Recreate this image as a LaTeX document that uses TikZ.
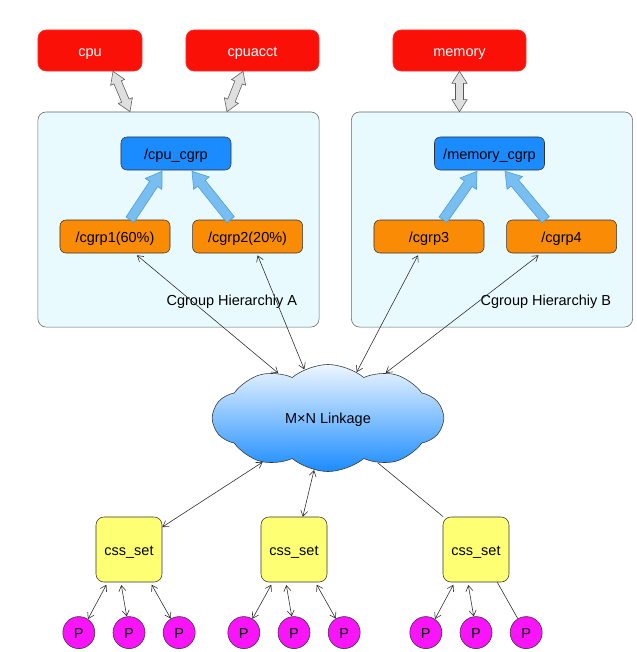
\documentclass[tikz,border=0pt]{standalone}
\usepackage{fontspec}
\setmainfont{Liberation Sans}
\usetikzlibrary{positioning, arrows.meta, shapes.geometric, shapes.symbols, calc}
\usepackage{xcolor}

\definecolor{subsysred}{HTML}{FA1006}
\definecolor{hierfill}{HTML}{E9FAFE}
\definecolor{rootblue}{HTML}{1A8CFF}
\definecolor{grporange}{HTML}{FA8C05}
\definecolor{cssyellow}{HTML}{FFFF73}
\definecolor{procmagenta}{HTML}{FA14FA}
\definecolor{cloudtop}{HTML}{EEF6FF}
\definecolor{inherblue}{HTML}{78BEF0}
\definecolor{inheredge}{HTML}{4A9ADE}

% fat double-headed arrow: style, from, to
\newcommand{\fatdouble}[3]{%
  \coordinate (fa-a) at (#2);
  \coordinate (fa-b) at (#3);
  \coordinate (fa-ha) at ($(fa-a)!0.3cm!(fa-b)$);
  \coordinate (fa-hb) at ($(fa-b)!0.3cm!(fa-a)$);
  \filldraw[#1] (fa-a) -- ($(fa-ha)!0.19cm!90:(fa-b)$) -- ($(fa-ha)!0.1cm!90:(fa-b)$)
    -- ($(fa-hb)!0.1cm!-90:(fa-a)$) -- ($(fa-hb)!0.19cm!-90:(fa-a)$) -- (fa-b)
    -- ($(fa-hb)!0.19cm!90:(fa-a)$) -- ($(fa-hb)!0.1cm!90:(fa-a)$)
    -- ($(fa-ha)!0.1cm!-90:(fa-b)$) -- ($(fa-ha)!0.19cm!-90:(fa-b)$) -- cycle;}

% fat single-headed arrow: style, from, to
\newcommand{\fatarrow}[3]{%
  \coordinate (fa-a) at (#2);
  \coordinate (fa-b) at (#3);
  \coordinate (fa-hb) at ($(fa-b)!0.38cm!(fa-a)$);
  \filldraw[#1] ($(fa-a)!0.12cm!90:(fa-b)$) -- ($(fa-hb)!0.12cm!-90:(fa-a)$)
    -- ($(fa-hb)!0.25cm!-90:(fa-a)$) -- (fa-b) -- ($(fa-hb)!0.25cm!90:(fa-a)$)
    -- ($(fa-hb)!0.12cm!90:(fa-a)$) -- ($(fa-a)!0.12cm!-90:(fa-b)$) -- cycle;}

\begin{document}
\begin{tikzpicture}[x=0.025cm, y=-0.025cm,
        every node/.style={font=\fontsize{10.3}{12}\selectfont, text height=8.5pt, text depth=0.5pt},
        subsys/.style={rectangle, rounded corners=0.2cm, fill=subsysred, draw=subsysred!85!white, text=white, minimum height=1.025cm},
        hier/.style={rectangle, rounded corners=0.2cm, fill=hierfill, draw=black!60, minimum width=7.025cm, minimum height=5.375cm},
        root/.style={rectangle, rounded corners=0.15cm, fill=rootblue, draw=black!80, minimum width=2.75cm, minimum height=0.825cm},
        grp/.style={rectangle, rounded corners=0.15cm, fill=grporange, draw=black!80, minimum width=2.75cm, minimum height=0.825cm},
        cssbox/.style={rectangle, rounded corners=0.2cm, fill=cssyellow, draw=black!80, minimum width=1.65cm, minimum height=1.625cm},
        proc/.style={circle, fill=procmagenta, draw=black!80, minimum size=0.8cm, inner sep=0pt},
        linkcloud/.style={cloud, cloud puffs=10, cloud puff arc=80, aspect=2.2, draw=black!80, top color=cloudtop, bottom color=rootblue, minimum width=5.75cm, minimum height=2.675cm},
        conn/.style={{Straight Barb[length=4pt,width=5pt]}-{Straight Barb[length=4pt,width=5pt]}, black!85, thin},
        plain/.style={black!85, thin},
        subarrow/.style={fill=gray!25, draw=gray!70!black, thin},
        inherit/.style={fill=inherblue, draw=inheredge, thin}
    ]
        \useasboundingbox (0,0) rectangle (637,652);

        % Subsystems
        \node[subsys, minimum width=2.6cm] (cpu) at (90,50.5) {cpu};
        \node[subsys, minimum width=3.325cm] (cpuacct) at (252.5,50.5) {cpuacct};
        \node[subsys, minimum width=3.325cm] (memory) at (459.5,50.5) {memory};

        % Hierarchies
        \node[hier] (hierA) at (178.5,219.5) {};
        \node[hier] (hierB) at (492,219.5) {};
        \node[anchor=east] (labA) at (302,300) {Cgroup Hierarchiy A};
        \node[anchor=east] (labB) at (616,300) {Cgroup Hierarchiy B};

        % Cgroups
        \node[root] (cpucg) at (176,153.5) {/cpu\_cgrp};
        \node[grp] (cgrp1) at (115,236.5) {/cgrp1(60\%)};
        \node[grp, right=0.55cm of cgrp1] (cgrp2) {/cgrp2(20\%)};
        \node[root] (memcg) at (489.5,153.5) {/memory\_cgrp};
        \node[grp] (cgrp3) at (429,236.5) {/cgrp3};
        \node[grp, right=0.55cm of cgrp3] (cgrp4) {/cgrp4};

        % Subsystem links
        \fatdouble{subarrow}{$(cpu.south)+(23,0)$}{$(hierA.north)+(-48.5,0)$}
        \fatdouble{subarrow}{$(cpuacct.south)+(-9.5,0)$}{$(hierA.north)+(48.5,0)$}
        \fatdouble{subarrow}{memory.south}{$(hierB.north)+(-32.5,0)$}

        % Parent links
        \fatarrow{inherit}{$(cgrp1.north)+(15,0)$}{$(cpucg.south)+(-14,1)$}
        \fatarrow{inherit}{$(cgrp2.north)+(-17,0)$}{$(cpucg.south)+(16,1)$}
        \fatarrow{inherit}{$(cgrp3.north)+(14,0)$}{$(memcg.south)+(-12.5,1)$}
        \fatarrow{inherit}{$(cgrp4.north)+(-16,0)$}{$(memcg.south)+(15.5,1)$}

        % Linkage
        \node[linkcloud] (link) at (328,418) {M×N Linkage};

        % css_sets
        \node[cssbox] (css1) at (129,549.5) {css\_set};
        \node[cssbox] (css2) at (294,549.5) {css\_set};
        \node[cssbox] (css3) at (476,549.5) {css\_set};

        % Processes
        \node[proc, below=0.85cm of css1] (p12) {P};
        \node[proc, left=0.44cm of p12] (p11) {P};
        \node[proc, right=0.44cm of p12] (p13) {P};
        \node[proc, below=0.85cm of css2] (p22) {P};
        \node[proc, left=0.44cm of p22] (p21) {P};
        \node[proc, right=0.44cm of p22] (p23) {P};
        \node[proc, below=0.85cm of css3] (p32) {P};
        \node[proc, left=0.44cm of p32] (p31) {P};
        \node[proc, right=0.44cm of p32] (p33) {P};

        % Cgroup to linkage
        \draw[conn] ($(cgrp1.south)+(22,2)$) -- (link.138);
        \draw[conn] ($(cgrp2.south)+(10,2)$) -- (link.116);
        \draw[conn] ($(cgrp3.south)+(-11,2)$) -- (link.58);
        \draw[conn] ($(cgrp4.south)+(-23,2)$) -- (link.38);

        % Linkage to css_sets
        \draw[conn] (css1.34) -- (link.214);
        \draw[conn] (css2.75) -- (link.255);
        \draw[plain] (css3.135) -- (link.-42);

        % css_sets to processes
        \draw[conn, shorten <=2pt] (css1.237) -- (p11.56);
        \draw[conn, shorten <=2pt] (css1.256) -- (p12.98);
        \draw[conn, shorten <=2pt] (css1.303) -- (p13.121);
        \draw[conn, shorten <=2pt] (css2.237) -- (p21.58);
        \draw[conn, shorten <=2pt] (css2.256) -- (p22.98);
        \draw[conn, shorten <=2pt] (css2.303) -- (p23.121);
        \draw[conn, shorten <=2pt] (css3.237) -- (p31.56);
        \draw[conn, shorten <=2pt] (css3.256) -- (p32.98);
        \draw[plain] (css3.303) -- (p33.121);
    \end{tikzpicture}
\end{document}
